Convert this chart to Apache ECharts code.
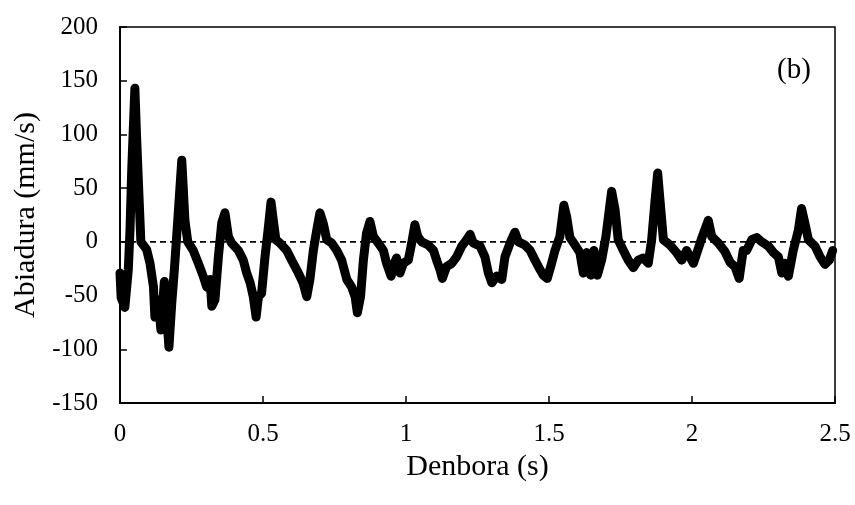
<!DOCTYPE html>
<html>
<head>
<meta charset="utf-8">
<title>Abiadura</title>
<script src="https://cdn.jsdelivr.net/npm/echarts@6/dist/echarts.min.js"></script>
<style>
  html, body { margin: 0; padding: 0; background: #fff; }
  #chart { width: 855px; height: 505px; }
</style>
</head>
<body>
<div id="chart"></div>
<script>
// time (s) and velocity (mm/s)
var times = [
  0.000, 0.004, 0.017, 0.029, 0.035, 0.041, 0.052, 0.058, 0.064, 0.073,
  0.093, 0.105, 0.117, 0.122, 0.134, 0.143, 0.155, 0.163, 0.171, 0.181,
  0.190, 0.202, 0.216, 0.221, 0.227, 0.237, 0.256, 0.274, 0.291, 0.303,
  0.315, 0.321, 0.332, 0.344, 0.356, 0.367, 0.379, 0.390, 0.414, 0.431,
  0.443, 0.455, 0.466, 0.476, 0.484, 0.495, 0.507, 0.519, 0.528, 0.536,
  0.545, 0.559, 0.583, 0.600, 0.618, 0.629, 0.641, 0.653, 0.664, 0.676,
  0.688, 0.699, 0.711, 0.723, 0.740, 0.758, 0.775, 0.793, 0.810, 0.822,
  0.830, 0.841, 0.851, 0.862, 0.874, 0.886, 0.903, 0.921, 0.932, 0.948,
  0.959, 0.967, 0.979, 0.991, 1.008, 1.020, 1.031, 1.041, 1.055, 1.078,
  1.096, 1.107, 1.119, 1.127, 1.142, 1.160, 1.177, 1.195, 1.212, 1.224,
  1.235, 1.259, 1.276, 1.288, 1.300, 1.317, 1.335, 1.346, 1.364, 1.381,
  1.393, 1.416, 1.434, 1.451, 1.469, 1.480, 1.494, 1.506, 1.521, 1.538,
  1.552, 1.562, 1.573, 1.591, 1.608, 1.620, 1.632, 1.646, 1.657, 1.669,
  1.684, 1.699, 1.719, 1.731, 1.742, 1.760, 1.777, 1.795, 1.812, 1.830,
  1.847, 1.859, 1.871, 1.880, 1.888, 1.900, 1.923, 1.946, 1.964, 1.981,
  1.993, 2.005, 2.020, 2.036, 2.057, 2.069, 2.092, 2.115, 2.133, 2.150,
  2.165, 2.179, 2.191, 2.209, 2.226, 2.244, 2.267, 2.285, 2.302, 2.314,
  2.325, 2.337, 2.354, 2.372, 2.383, 2.395, 2.407, 2.430, 2.448, 2.465,
  2.480, 2.492
];
var speeds = [
  -29, -52, -61, -26, 11, 67, 143, 98, 58, 0,
  -7, -20, -42, -70, -54, -82, -37, -66, -98, -57,
  -26, 20, 76, 51, 20, 0, -8, -20, -32, -42,
  -35, -60, -54, -14, 18, 27, 5, -1, -8, -17,
  -29, -38, -51, -70, -51, -48, -14, 14, 37, 20,
  2, -1, -8, -17, -26, -32, -39, -51, -35, -8,
  11, 27, 17, 2, -1, -8, -17, -35, -42, -51,
  -66, -51, -17, 8, 19, 5, -1, -8, -20, -32,
  -20, -15, -29, -20, -17, -1, 16, 5, 0, -3,
  -8, -17, -26, -34, -23, -20, -14, -4, 2, 7,
  -1, -4, -14, -29, -38, -32, -35, -14, -1, 9,
  0, -3, -8, -17, -26, -31, -34, -23, -8, 5,
  34, 23, 4, -3, -10, -29, -10, -31, -8, -31,
  -17, 5, 47, 30, 2, -8, -17, -24, -17, -15,
  -20, 2, 39, 64, 39, 2, -3, -10, -17, -8,
  -14, -20, -8, 5, 20, 5, -1, -9, -19, -23,
  -34, -8, -8, 2, 4, 0, -4, -10, -14, -29,
  -20, -32, -8, 11, 31, 17, 2, -4, -14, -21,
  -17, -8
];
// dashed reference line at zero
var zeroTimes = [0, 2.5];
var zeroValues = [0, 0];
var xTicks = [0, 0.5, 1, 1.5, 2, 2.5];
var yTicks = [-150, -100, -50, 0, 50, 100, 150, 200];

var points = times.map(function (t, i) { return [t, speeds[i]]; });
var zeroPoints = zeroTimes.map(function (t, i) { return [t, zeroValues[i]]; });
var serif = "'Liberation Serif', 'DejaVu Serif', serif";

var chart = echarts.init(document.getElementById('chart'));
chart.setOption({
  animation: false,
  grid: {
    left: 120, right: 20, top: 27, bottom: 102,
    show: true, borderColor: '#000', borderWidth: 1.5
  },
  xAxis: {
    type: 'value',
    min: xTicks[0], max: xTicks[xTicks.length - 1], interval: 0.5,
    name: 'Denbora (s)', nameLocation: 'middle', nameGap: 47,
    nameTextStyle: { fontFamily: serif, fontSize: 30, color: '#000' },
    axisLine: { onZero: false, lineStyle: { color: '#000', width: 2 } },
    axisTick: { inside: true, length: 7, lineStyle: { color: '#000', width: 1.5 } },
    axisLabel: { fontFamily: serif, fontSize: 25, color: '#000', margin: 19 },
    splitLine: { show: false }
  },
  yAxis: {
    type: 'value',
    min: yTicks[0], max: yTicks[yTicks.length - 1], interval: 50,
    name: 'Abiadura (mm/s)', nameLocation: 'middle', nameGap: 77,
    nameTextStyle: { fontFamily: serif, fontSize: 30, color: '#000' },
    axisLine: { onZero: false, lineStyle: { color: '#000', width: 2 } },
    axisTick: { inside: true, length: 7, lineStyle: { color: '#000', width: 1.5 } },
    axisLabel: { fontFamily: serif, fontSize: 25, color: '#000', margin: 22 },
    splitLine: { show: false }
  },
  graphic: [{
    type: 'text', left: 777, top: 56,
    style: { text: '(b)', font: "29px 'Liberation Serif', serif", fill: '#000' }
  }],
  series: [{
    type: 'line',
    data: zeroPoints,
    showSymbol: false,
    silent: true,
    lineStyle: { color: '#000', width: 1.8, type: [6, 4] },
    z: 1
  }, {
    type: 'line',
    data: points,
    showSymbol: false,
    lineStyle: { color: '#000', width: 9, cap: 'round', join: 'round' },
    z: 3
  }]
});
</script>
</body>
</html>
